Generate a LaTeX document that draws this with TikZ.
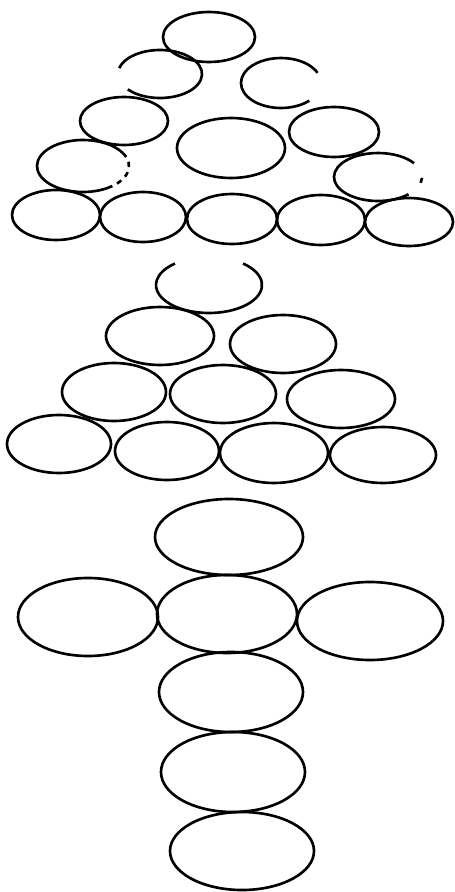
\documentclass[tikz,border=0pt]{standalone}
\usepackage{tikz}
\tikzset{ring/.style={line width=1.5pt}}
\begin{document}
\begin{tikzpicture}[x=0.02cm,y=-0.02cm]
  \useasboundingbox (0,0) rectangle (455,892);
  \draw[ring] (209,37) ellipse [x radius=46, y radius=25]; \draw[ring] (124,121) ellipse [x radius=44, y radius=24]; \draw[ring] (231,148) ellipse [x radius=54, y radius=30]; \draw[ring] (334,132) ellipse [x radius=45, y radius=25];
  \draw[ring] (160,74) ++(-166:42 and 24) arc[start angle=-166, end angle=140, x radius=42, y radius=24];
  \draw[ring] (281,83) ++(45:40 and 25) arc[start angle=45, end angle=336, x radius=40, y radius=25];
  \draw[ring] (83,166) ++(57:46 and 26) arc[start angle=57, end angle=330, x radius=46, y radius=26]; \draw[ring, dashed] (83,166) ++(-30:46 and 26) arc[start angle=-30, end angle=57, x radius=46, y radius=26];
  \draw[ring] (378,177) ++(46:44 and 24) arc[start angle=46, end angle=325, x radius=44, y radius=24]; \draw[ring] (378,177) ++(2:44 and 24) arc[start angle=2, end angle=14, x radius=44, y radius=24];
  \draw[ring] (56,215) ellipse [x radius=44, y radius=25]; \draw[ring] (143,217) ellipse [x radius=43, y radius=25]; \draw[ring] (232,219) ellipse [x radius=45, y radius=25]; \draw[ring] (321,220) ellipse [x radius=44, y radius=25]; \draw[ring] (409,222) ellipse [x radius=44, y radius=24];
  \draw[ring] (209,285) ++(-50:53 and 28) arc[start angle=-50, end angle=230, x radius=53, y radius=28];
  \draw[ring] (160,336) ellipse [x radius=54, y radius=29]; \draw[ring] (283,344) ellipse [x radius=53, y radius=29];
  \draw[ring] (114,392) ellipse [x radius=52, y radius=29]; \draw[ring] (223,394) ellipse [x radius=53, y radius=29]; \draw[ring] (341,399) ellipse [x radius=54, y radius=29];
  \draw[ring] (59,444) ellipse [x radius=52, y radius=29]; \draw[ring] (167,451) ellipse [x radius=52, y radius=29]; \draw[ring] (274,453) ellipse [x radius=54, y radius=30]; \draw[ring] (383,455) ellipse [x radius=53, y radius=28];
  \draw[ring] (229,537) ellipse [x radius=74, y radius=38];
  \draw[ring] (88,617) ellipse [x radius=70, y radius=39]; \draw[ring] (227,614) ellipse [x radius=70, y radius=39]; \draw[ring] (370,621) ellipse [x radius=73, y radius=39];
  \draw[ring] (231,692) ellipse [x radius=72, y radius=40]; \draw[ring] (233,772) ellipse [x radius=72, y radius=40]; \draw[ring] (242,851) ellipse [x radius=72, y radius=39];
\end{tikzpicture}
\end{document}
